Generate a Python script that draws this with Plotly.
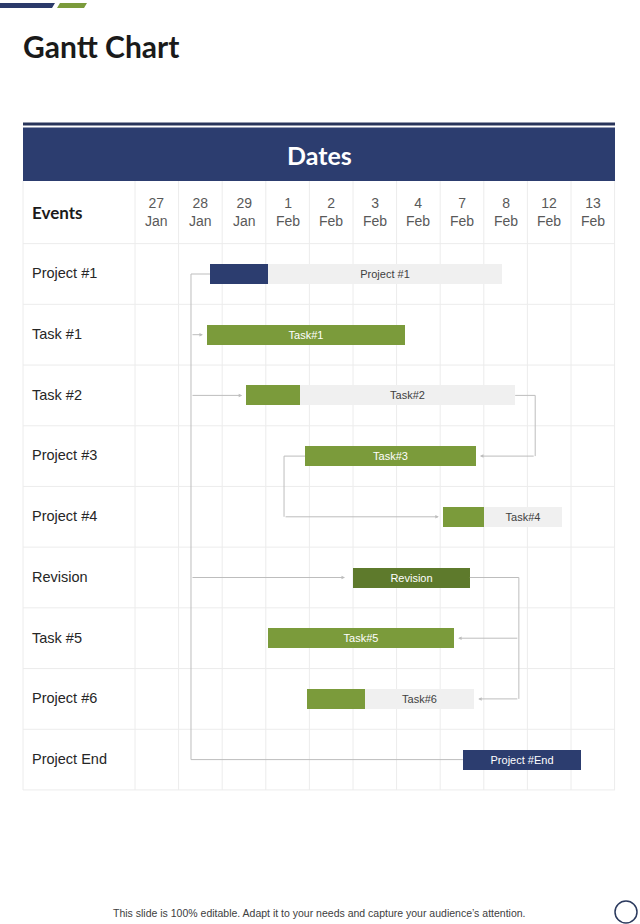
import plotly.graph_objects as go

# ---------------- data ----------------
events = ["Project #1", "Task #1", "Task #2", "Project #3", "Project #4",
          "Revision", "Task #5", "Project #6", "Project End"]
bar_labels = ["Project #1", "Task#1", "Task#2", "Task#3", "Task#4",
              "Revision", "Task#5", "Task#6", "Project #End"]
# positions in date-column units (0 = left edge of "27 Jan" column)
start = [1.72, 1.65, 2.55, 3.90, 7.06, 5.00, 3.05, 3.94, 7.52]
done = [3.05, 6.19, 3.78, 7.82, 8.00, 7.68, 7.32, 5.28, 10.23]
finish = [8.42, 6.19, 8.72, 7.82, 9.79, 7.68, 7.32, 7.78, 10.23]
kind = ["project", "task", "task", "task", "task", "revision", "task", "task", "project"]

date_days = ["27", "28", "29", "1", "2", "3", "4", "7", "8", "12", "13"]
date_months = ["Jan", "Jan", "Jan", "Feb", "Feb", "Feb", "Feb", "Feb", "Feb", "Feb", "Feb"]

# ---------------- layout constants ----------------
W, H = 640, 924
X0, CW = 135.0, 43.6      # pixel of column 0, pixels per column
Y0, RH = 274.0, 60.7      # pixel of row 0 centre, pixels per row
TL, TR = 23.0, 615.0      # table left/right pixels

NAVY = "#2c3d6f"
GREEN = "#7b9b3b"
DKGREEN = "#5e7a2c"
GREYBAR = "#f0f0f0"
GRID = "#ececec"
CONN = "#bdbdbd"
colors = {"project": NAVY, "task": GREEN, "revision": DKGREEN}

def ux(px):
    return (px - X0) / CW

def uy(py):
    return (py - Y0) / RH

def PX(px):
    return px / W

def PY(py):
    return 1 - py / H

n = len(events)
rows = list(range(n))
BW = 20 / RH

fig = go.Figure()

has_grey = [f > d + 1e-9 for d, f in zip(done, finish)]

# coloured part
fig.add_trace(go.Bar(
    orientation="h", y=rows, base=start,
    x=[d - s for s, d in zip(start, done)],
    width=BW, marker=dict(color=[colors[k] for k in kind], line=dict(width=0)),
    text=["" if g else t for g, t in zip(has_grey, bar_labels)],
    textposition="inside", insidetextanchor="middle",
    textfont=dict(family="Liberation Sans, Arial", size=11, color="#ffffff"),
    hoverinfo="skip", showlegend=False,
))
# remaining (grey) part
gy = [r for r, g in zip(rows, has_grey) if g]
fig.add_trace(go.Bar(
    orientation="h", y=gy,
    base=[done[r] for r in gy],
    x=[finish[r] - done[r] for r in gy],
    width=BW, marker=dict(color=GREYBAR, line=dict(width=0)),
    text=[bar_labels[r] for r in gy],
    textposition="inside", insidetextanchor="middle",
    textfont=dict(family="Liberation Sans, Arial", size=11, color="#404040"),
    hoverinfo="skip", showlegend=False,
))

shapes = []
annotations = []

def note(**kw):
    kw.setdefault("xanchor", "center")
    kw.setdefault("yanchor", "middle")
    kw.setdefault("showarrow", False)
    annotations.append(kw)

# ---------------- table chrome ----------------
shapes.append(dict(type="rect", xref="paper", yref="paper",
                   x0=PX(TL), x1=PX(TR), y0=PY(125.5), y1=PY(122.5),
                   fillcolor="#28345a", line=dict(width=0), layer="below"))
shapes.append(dict(type="rect", xref="paper", yref="paper",
                   x0=PX(TL), x1=PX(TR), y0=PY(181), y1=PY(127.5),
                   fillcolor=NAVY, line=dict(width=0), layer="below"))
note(xref="paper", yref="paper", x=PX((TL + TR) / 2), y=PY(155),
     text="<b>Dates</b>", font=dict(family="Lato, Open Sans", size=25, color="white"))

xl, xr = ux(TL), ux(TR)
top_row = uy(181)
last = n - 0.5
for i in range(len(date_days) + 1):
    shapes.append(dict(type="line", xref="x", yref="y", x0=i, x1=i, y0=top_row, y1=last,
                       line=dict(color=GRID, width=1), layer="below"))
shapes.append(dict(type="line", xref="x", yref="y", x0=xl, x1=xl, y0=top_row, y1=last,
                   line=dict(color=GRID, width=1), layer="below"))
for k in range(n + 1):
    yv = -0.5 + k
    shapes.append(dict(type="line", xref="x", yref="y", x0=xl, x1=xr, y0=yv, y1=yv,
                       line=dict(color=GRID, width=1), layer="below"))

hy = uy(212)
note(xref="paper", yref="y", x=PX(30), y=hy, xanchor="left",
     text="<b>Events</b>", font=dict(family="Lato, Open Sans", size=17, color="#1a1a1a"))
for i, (d, m) in enumerate(zip(date_days, date_months)):
    note(xref="x", yref="y", x=i + 0.5, y=hy, text=f"{d}<br>{m}",
         font=dict(family="Liberation Sans, Arial", size=14, color="#595959"))
for r, ev in enumerate(events):
    note(xref="paper", yref="y", x=PX(30), y=r - 0.01, xanchor="left", text=ev,
         font=dict(family="Liberation Sans, Arial", size=14.5, color="#262626"))

# ---------------- connectors ----------------
G = 4 / CW

def seg(x0, y0, x1, y1):
    shapes.append(dict(type="line", xref="x", yref="y", x0=x0, x1=x1, y0=y0, y1=y1,
                       line=dict(color=CONN, width=1)))

def arrow(xtail, ytail, xtip, ytip):
    annotations.append(dict(xref="x", yref="y", axref="x", ayref="y",
                            x=xtip, y=ytip, ax=xtail, ay=ytail, text="",
                            showarrow=True, arrowhead=2, arrowsize=0.7, arrowwidth=1,
                            arrowcolor=CONN, standoff=0, startstandoff=0))

trunk = start[0] - 19 / CW
seg(trunk, 0, trunk, n - 1)
seg(trunk, 0, start[0], 0)
arrow(trunk, 1, start[1] - G, 1)
arrow(trunk, 2, start[2] - G, 2)
arrow(trunk, 5, start[5] - 2 * G, 5)
seg(trunk, n - 1, start[n - 1], n - 1)

e1 = finish[2] + 20 / CW
seg(finish[2], 2, e1, 2)
seg(e1, 2, e1, 3)
arrow(e1, 3, finish[3] + G, 3)

e2 = start[3] - 21 / CW
seg(start[3], 3, e2, 3)
seg(e2, 3, e2, 4)
arrow(e2, 4, start[4] - G, 4)

e3 = finish[5] + 49 / CW
seg(finish[5], 5, e3, 5)
seg(e3, 5, e3, 7)
arrow(e3, 6, finish[6] + G, 6)
arrow(e3, 7, finish[7] + G, 7)

# ---------------- page decorations ----------------
shapes.append(dict(type="path", xref="paper", yref="paper",
                   path=f"M {PX(0)},{PY(3)} L {PX(55)},{PY(3)} L {PX(52)},{PY(8)} L {PX(0)},{PY(8)} Z",
                   fillcolor="#2b3a6a", line=dict(width=0)))
shapes.append(dict(type="path", xref="paper", yref="paper",
                   path=f"M {PX(60)},{PY(3)} L {PX(87)},{PY(3)} L {PX(84)},{PY(8)} L {PX(57)},{PY(8)} Z",
                   fillcolor=GREEN, line=dict(width=0)))
shapes.append(dict(type="circle", xref="paper", yref="paper",
                   x0=PX(615), x1=PX(637), y0=PY(923), y1=PY(901),
                   line=dict(color="#2b3a5e", width=1.5), fillcolor="rgba(0,0,0,0)"))

note(xref="paper", yref="paper", x=PX(21), y=PY(46), xanchor="left",
     text="<b>Gantt Chart</b>", font=dict(family="Lato, Open Sans", size=30, color="#1a1a1a"))
note(xref="paper", yref="paper", x=PX(319), y=PY(913),
     text="This slide is 100% editable. Adapt it to your needs and capture your audience\u2019s attention.",
     font=dict(family="Liberation Sans, Arial", size=10.5, color="#404040"))

fig.update_layout(
    width=W, height=H, margin=dict(l=0, r=0, t=0, b=0),
    paper_bgcolor="white", plot_bgcolor="white",
    barmode="overlay", bargap=0,
    xaxis=dict(range=[ux(0), ux(W)], visible=False, fixedrange=True),
    yaxis=dict(range=[uy(H), uy(0)], visible=False, fixedrange=True),
    shapes=shapes, annotations=annotations,
)

fig.write_html("out.html")
